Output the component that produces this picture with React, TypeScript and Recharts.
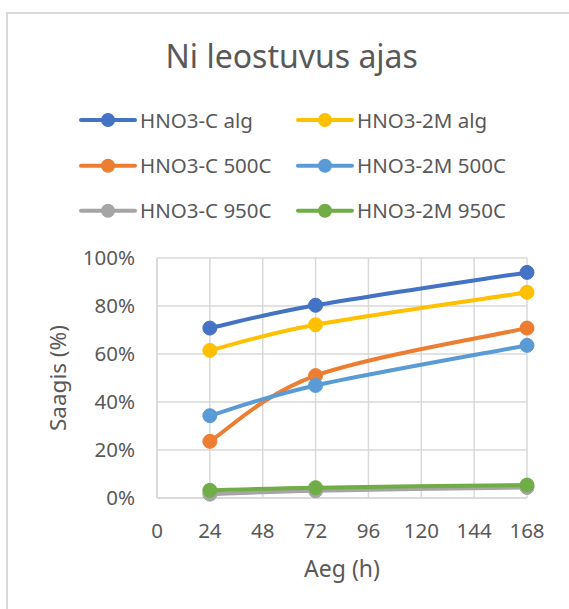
import React from 'react';
import { LineChart, Line, XAxis, YAxis, CartesianGrid, Legend } from 'recharts';

const hours = [24, 72, 168];
const cAlg = [70.8, 80.3, 94.0];
const m2Alg = [61.5, 72.2, 85.7];
const c500 = [23.6, 51.0, 70.8];
const m2500 = [34.3, 46.9, 63.6];
const c950 = [1.6, 3.0, 4.4];
const m2950 = [3.2, 4.3, 5.4];

const xTicks = [0, 24, 48, 72, 96, 120, 144, 168];
const yTicks = [0, 20, 40, 60, 80, 100];

const title = 'Ni leostuvus ajas';
const xTitle = 'Aeg (h)';
const yTitle = 'Saagis (%)';

const seriesNames = ['HNO3-C alg', 'HNO3-2M alg', 'HNO3-C 500C', 'HNO3-2M 500C', 'HNO3-C 950C', 'HNO3-2M 950C'];
const seriesKeys = ['cAlg', 'm2Alg', 'c500', 'm2500', 'c950', 'm2950'];
const seriesColors = ['#4472C4', '#FFC000', '#ED7D31', '#5B9BD5', '#A5A5A5', '#70AD47'];
const seriesValues = [cAlg, m2Alg, c500, m2500, c950, m2950];

const data = hours.map((h, i) => {
  const row: Record<string, number> = { h };
  seriesKeys.forEach((k, s) => {
    row[k] = seriesValues[s][i];
  });
  return row;
});

const FONT = '"Noto Sans", "Open Sans", sans-serif';
const TEXT = '#595959';

// Catmull-Rom style smoothing similar to Excel's "smoothed line"
const excelSmooth = (context: any) => {
  let pts: number[][] = [];
  return {
    areaStart() {},
    areaEnd() {},
    lineStart() {
      pts = [];
    },
    point(x: number, y: number) {
      pts.push([+x, +y]);
    },
    lineEnd() {
      const n = pts.length;
      if (n === 0) return;
      context.moveTo(pts[0][0], pts[0][1]);
      if (n === 1) return;
      for (let i = 0; i < n - 1; i++) {
        const p0 = pts[Math.max(0, i - 1)];
        const p1 = pts[i];
        const p2 = pts[i + 1];
        const p3 = pts[Math.min(n - 1, i + 2)];
        const c1x = p1[0] + (p2[0] - p0[0]) / 6;
        const c1y = p1[1] + (p2[1] - p0[1]) / 6;
        const c2x = p2[0] - (p3[0] - p1[0]) / 6;
        const c2y = p2[1] - (p3[1] - p1[1]) / 6;
        context.bezierCurveTo(c1x, c1y, c2x, c2y, p2[0], p2[1]);
      }
    },
  };
};

const LegendContent = () => {
  const colX = [81, 298];
  const rowY = [120, 165.7, 210.7];
  return (
    <svg width={569} height={230} style={{ display: 'block' }}>
      <text x={291.7} y={68.3} textAnchor="middle" fontFamily={FONT} fontSize={32} fill={TEXT}>
        {title}
      </text>
      {seriesNames.map((name, i) => {
        const x = colX[i % 2];
        const y = rowY[Math.floor(i / 2)];
        return (
          <g key={name}>
            <line x1={x} x2={x + 54} y1={y} y2={y} stroke={seriesColors[i]} strokeWidth={4} strokeLinecap="round" />
            <circle cx={x + 27} cy={y} r={7} fill={seriesColors[i]} />
            <text x={x + 59} y={y + 7.5} fontFamily={FONT} fontSize={20.5} fill={TEXT}>
              {name}
            </text>
          </g>
        );
      })}
    </svg>
  );
};

export default function App() {
  return (
    <div style={{ position: 'absolute', left: 0, top: 0, width: 569, height: 609, overflow: 'hidden', background: '#fff' }}>
      <div
        style={{
          position: 'absolute',
          left: 6,
          top: 11.5,
          width: 640,
          height: 700,
          border: '2px solid #d9d9d9',
          boxSizing: 'border-box',
        }}
      />
      <div style={{ position: 'absolute', left: 0, top: 0 }}>
        <LineChart width={569} height={609} data={data} margin={{ top: 258, right: 42, bottom: 11, left: 0 }}>
          <CartesianGrid stroke="#d9d9d9" strokeWidth={1.5} />
          <XAxis
            dataKey="h"
            type="number"
            domain={[0, 168]}
            ticks={xTicks}
            interval={0}
            height={100}
            tickLine={false}
            tickSize={0}
            tickMargin={25}
            axisLine={{ stroke: '#d9d9d9', strokeWidth: 1.5 }}
            tick={{ fill: TEXT, fontSize: 20.5, fontFamily: FONT }}
            label={{ value: xTitle, position: 'insideBottom', offset: 21, fill: TEXT, fontSize: 23, fontFamily: FONT }}
          />
          <YAxis
            type="number"
            domain={[0, 100]}
            ticks={yTicks}
            interval={0}
            width={157}
            tickLine={false}
            tickSize={0}
            tickMargin={22}
            axisLine={{ stroke: '#d9d9d9', strokeWidth: 1.5 }}
            tickFormatter={(v: number) => `${v}%`}
            tick={{ fill: TEXT, fontSize: 20.5, fontFamily: FONT }}
            label={{
              value: yTitle,
              angle: -90,
              position: 'insideLeft',
              offset: 58,
              fill: TEXT,
              fontSize: 22.5,
              fontFamily: FONT,
              style: { textAnchor: 'middle' },
            }}
          />
          <Legend
            layout="horizontal"
            verticalAlign="middle"
            align="center"
            wrapperStyle={{ left: 0, top: 0, width: 569, height: 230 }}
            content={<LegendContent />}
          />
          {seriesKeys.map((k, i) => (
            <Line
              key={k}
              type={excelSmooth as any}
              dataKey={k}
              name={seriesNames[i]}
              stroke={seriesColors[i]}
              strokeWidth={4}
              dot={{ r: 7, fill: seriesColors[i], stroke: seriesColors[i], strokeWidth: 1 }}
              activeDot={false}
              isAnimationActive={false}
            />
          ))}
        </LineChart>
      </div>
    </div>
  );
}
